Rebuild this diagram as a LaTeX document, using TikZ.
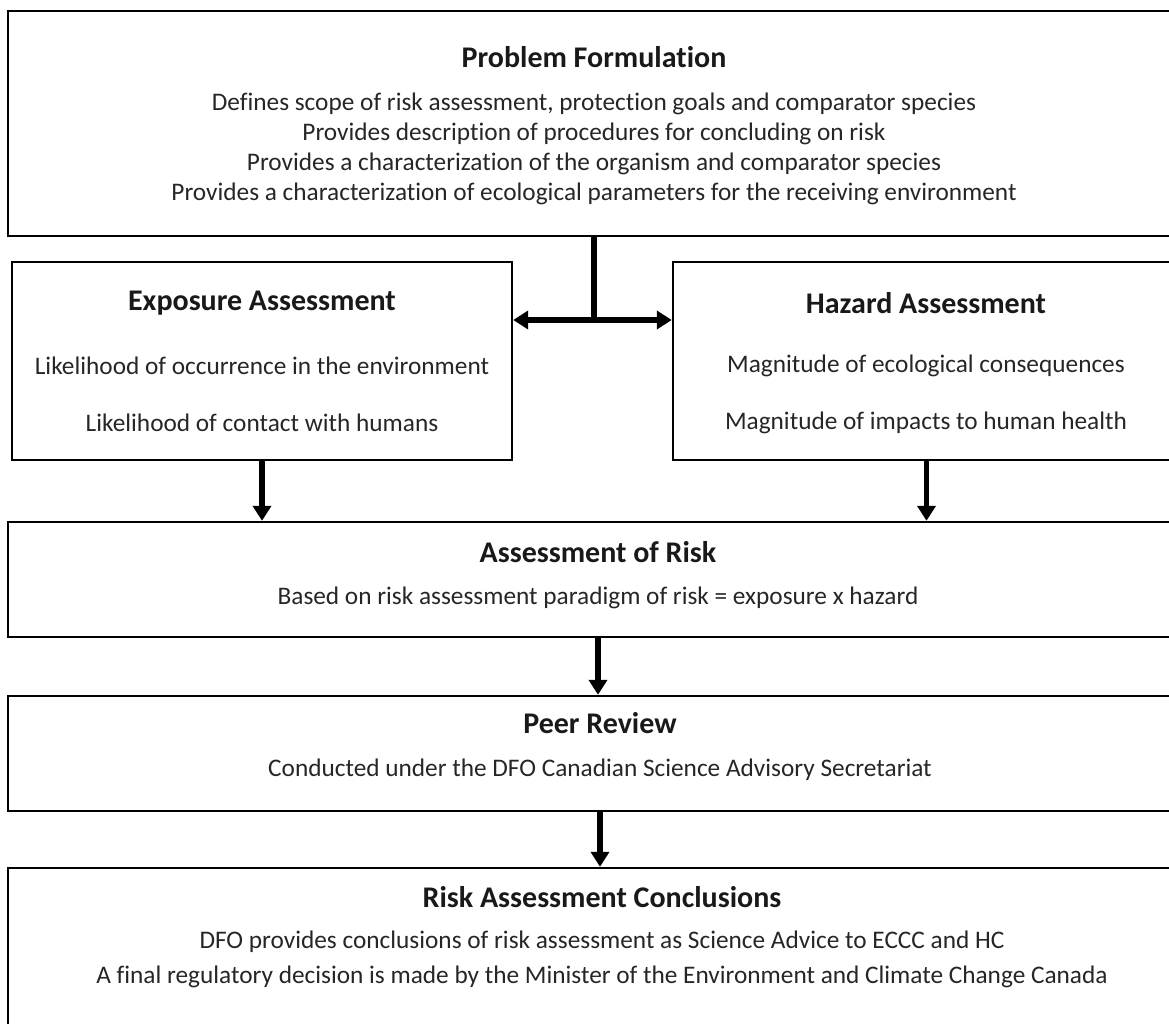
\documentclass[tikz,border=0pt]{standalone}
\usepackage{fontspec}
\setmainfont{Carlito}[Ligatures={NoCommon}]
\usetikzlibrary{arrows.meta,fit}
\begin{document}
\begin{tikzpicture}[x=0.5pt,y=-0.5pt,
  box/.style={draw=black,line width=1.2pt,inner sep=0pt},
  ttl/.style={font=\fontsize{15}{17}\selectfont\bfseries,inner sep=0pt,text=black!90},
  txt/.style={font=\fontsize{12.65}{14}\selectfont,inner sep=0pt,text=black!85},
  conn/.style={line width=2.6pt},
  arr/.style={conn,-{Triangle[width=9pt,length=7.5pt]}},
  darr/.style={conn,{Triangle[width=9pt,length=7.5pt]}-{Triangle[width=9pt,length=7.5pt]}}]
\useasboundingbox (0,0) rectangle (1169,1024);
\clip (0,0) rectangle (1169,1024);
% boxes
\node[box,fit={(8,11)(1182,236)}] (pf) {};
\node[box,fit={(12,262)(512,460)}] (ex) {};
\node[box,fit={(673,262)(1180,460)}] (hz) {};
\node[box,fit={(8,522)(1188,637)}] (ar) {};
\node[box,fit={(8,696)(1192,811)}] (pr) {};
\node[box,fit={(8,868)(1196,1060)}] (rc) {};
% texts
\node[ttl] (pft) at (594,57) {Problem Formulation};
\node[txt] (pf1) at (594,104) {Defines scope of risk assessment, protection goals and comparator species};
\node[txt] (pf2) at (594,134) {Provides description of procedures for concluding on risk};
\node[txt] (pf3) at (594,164) {Provides a characterization of the organism and comparator species};
\node[txt] (pf4) at (594,194) {Provides a characterization of ecological parameters for the receiving environment};
\node[ttl] (ext) at (262,303) {Exposure Assessment};
\node[txt] (ex1) at (262,366) {Likelihood of occurrence in the environment};
\node[txt] (ex2) at (262,423) {Likelihood of contact with humans};
\node[ttl] (hzt) at (926,303) {Hazard Assessment};
\node[txt] (hz1) at (926,366) {Magnitude of ecological consequences};
\node[txt] (hz2) at (926,423) {Magnitude of impacts to human health};
\node[ttl] (art) at (598,552) {Assessment of Risk};
\node[txt] (ar1) at (598,598) {Based on risk assessment paradigm of risk = exposure x hazard};
\node[ttl] (prt) at (600,723) {Peer Review};
\node[txt] (pr1) at (600,770) {Conducted under the DFO Canadian Science Advisory Secretariat};
\node[ttl] (rct) at (602,897) {Risk Assessment Conclusions};
\node[txt] (rc1) at (602,942) {DFO provides conclusions of risk assessment as Science Advice to ECCC and HC};
\node[txt] (rc2) at (602,977) {A final regulatory decision is made by the Minister of the Environment and Climate Change Canada};
% connectors
\coordinate (j) at (594,320);
\draw[conn] (pf.south -| j) -- (j);
\draw[darr] (ex.east |- j) -- (hz.west |- j);
\draw[arr] (ex.south) -- (ex.south |- ar.north);
\draw[arr] (hz.south) -- (hz.south |- ar.north);
\draw[arr] (ar.south) -- (ar.south |- pr.north);
\draw[arr] (pr.south) -- (pr.south |- rc.north);
\end{tikzpicture}
\end{document}
